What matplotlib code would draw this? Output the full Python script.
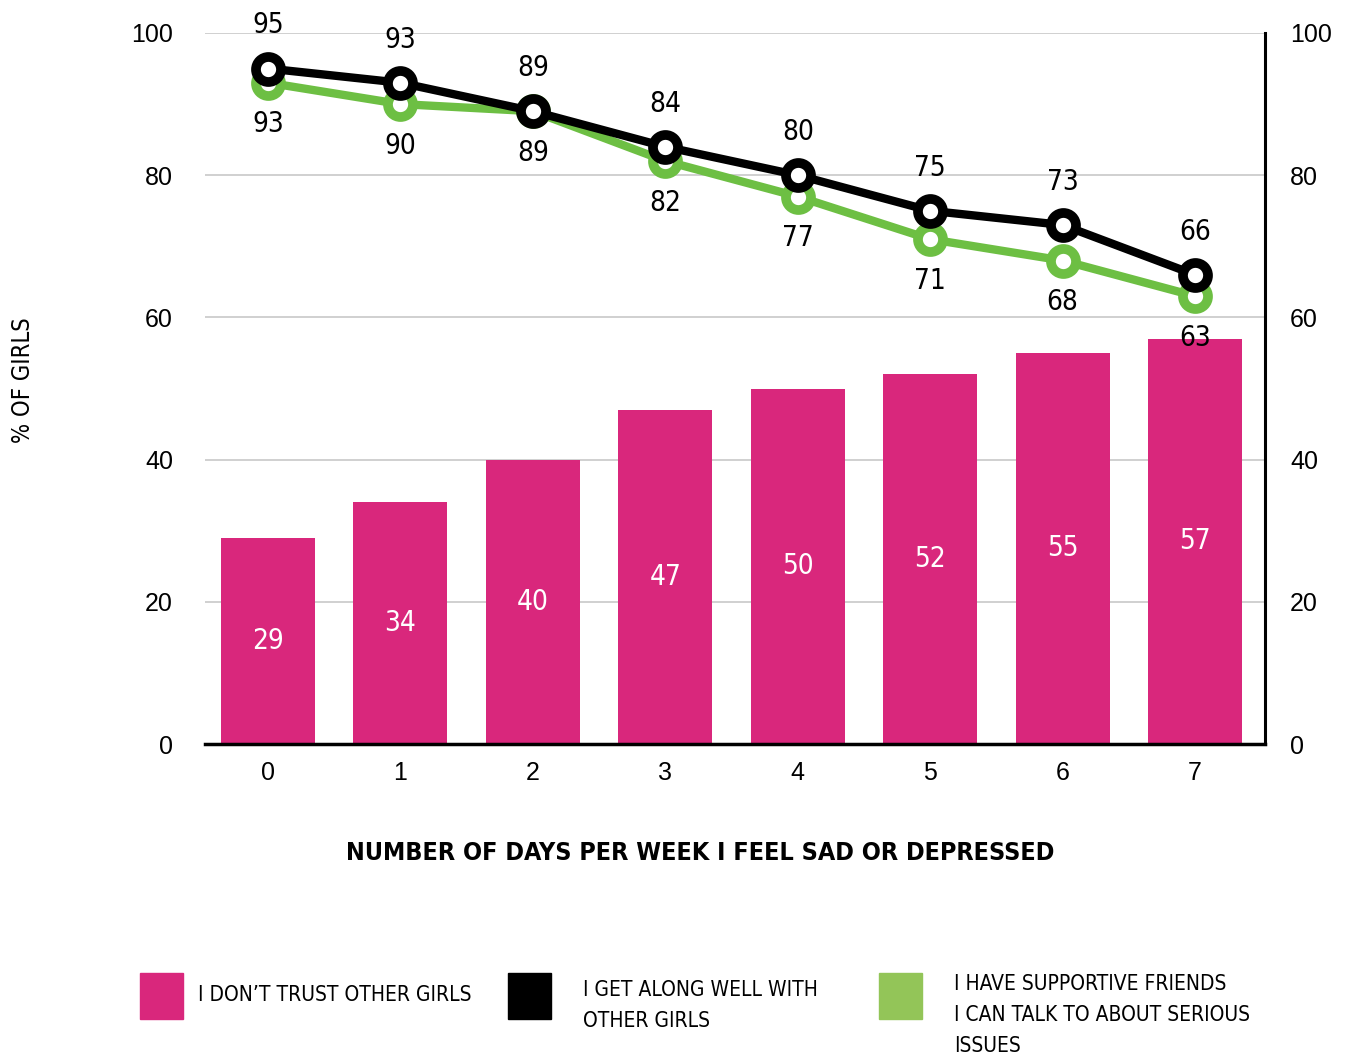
import matplotlib.pyplot as plt
from matplotlib.patches import Rectangle

plt.rcParams['font.family'] = ['Liberation Sans', 'DejaVu Sans']

days = [0, 1, 2, 3, 4, 5, 6, 7]
dont_trust = [29, 34, 40, 47, 50, 52, 55, 57]
get_along = [95, 93, 89, 84, 80, 75, 73, 66]
supportive = [93, 90, 89, 82, 77, 71, 68, 63]
y_ticks = [0, 20, 40, 60, 80, 100]

PINK = '#d9277c'
GREEN = '#6dbf43'
NARROW = dict(family='DejaVu Sans', fontstretch='condensed')

fig = plt.figure(figsize=(13.47, 10.57), dpi=100)
ax = fig.add_axes([0.1522, 0.2961, 0.787, 0.6727])

ax.bar(days, dont_trust, width=0.71, color=PINK, zorder=2)
for x, v in zip(days, dont_trust):
    ax.text(x, v / 2, str(v), color='white', ha='center', va='center',
            fontsize=20, zorder=5, **NARROW)

ax.plot(days, supportive, color=GREEN, lw=6, marker='o', ms=18,
        mfc='white', mec=GREEN, mew=7, zorder=3)
ax.plot(days, get_along, color='black', lw=6, marker='o', ms=18,
        mfc='white', mec='black', mew=7, zorder=4)

for x, v in zip(days, get_along):
    ax.annotate(str(v), (x, v), xytext=(0, 31), textcoords='offset points',
                ha='center', va='center', fontsize=20, zorder=6, **NARROW)
for x, v in zip(days, supportive):
    ax.annotate(str(v), (x, v), xytext=(0, -30), textcoords='offset points',
                ha='center', va='center', fontsize=20, zorder=6, **NARROW)

ax.set_xlim(-0.476, 7.53)
ax.set_ylim(0, 100)
ax.set_xticks(days)
ax.set_yticks(y_ticks)
ax.grid(axis='y', color='#c8c8c8', lw=1.2, zorder=0)
ax.set_axisbelow(True)

for s in ['top', 'left', 'right']:
    ax.spines[s].set_visible(False)
ax.spines['bottom'].set_color('black')
ax.spines['bottom'].set_linewidth(2.5)
ax.spines['bottom'].set_zorder(5)

ax.tick_params(axis='y', length=0, labelsize=18, pad=23)
ax.tick_params(axis='x', length=0, labelsize=18, pad=12)

# right-hand scale
ax2 = ax.twinx()
ax2.set_ylim(ax.get_ylim())
ax2.set_yticks(y_ticks)
ax2.tick_params(axis='y', length=0, labelsize=18, pad=18)
for s in ['top', 'left', 'bottom']:
    ax2.spines[s].set_visible(False)
ax2.spines['right'].set_color('black')
ax2.spines['right'].set_linewidth(2.2)

ax.set_xlabel('NUMBER OF DAYS PER WEEK I FEEL SAD OR DEPRESSED',
              fontsize=18, fontweight='bold', **NARROW)
ax.xaxis.set_label_coords(0.467, -0.136)
fig.text(0.017, 0.64, '% OF GIRLS', rotation=90, ha='center', va='center',
         fontsize=17, **NARROW)

# legend
W, H = 1347, 1057
legend = [
    (140, PINK, ['I DON\u2019T TRUST OTHER GIRLS'], 995),
    (508, 'black', ['I GET ALONG WELL WITH', 'OTHER GIRLS'], 990),
    (879, '#93c558', ['I HAVE SUPPORTIVE FRIENDS',
                      'I CAN TALK TO ABOUT SERIOUS', 'ISSUES'], 984),
]
for x0, col, lines, ty in legend:
    fig.patches.append(Rectangle((x0 / W, 1 - 1019 / H), 43 / W, 46 / H,
                                 color=col, transform=fig.transFigure))
    tx = x0 + (58 if x0 == 140 else 75)
    for i, line in enumerate(lines):
        fig.text(tx / W, 1 - (ty + i * 31) / H, line, ha='left', va='center',
                 fontsize=15, **NARROW)

fig.savefig('out.png', dpi=100)
